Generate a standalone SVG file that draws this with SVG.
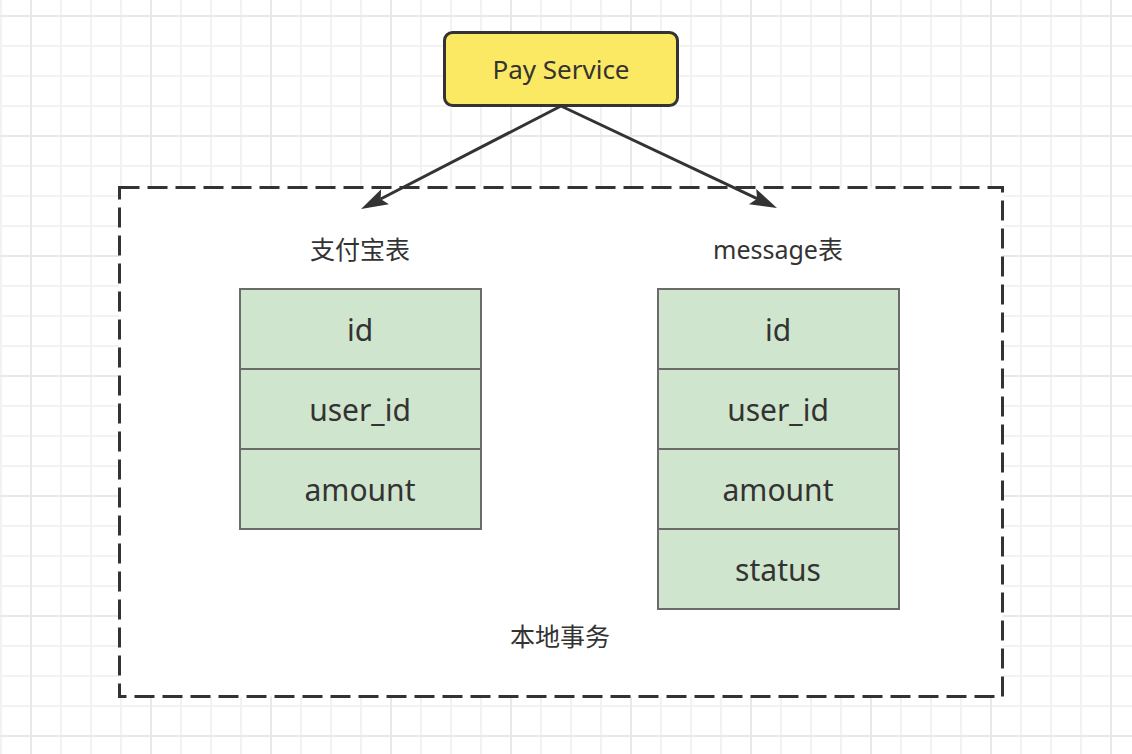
<svg xmlns="http://www.w3.org/2000/svg" width="1132" height="754" viewBox="0 0 1132 754">
  <defs>
    <pattern id="minor" patternUnits="userSpaceOnUse" x="30" y="15" width="30" height="30">
      <rect x="0" y="0" width="2" height="30" fill="#f2f2f2"/>
      <rect x="0" y="0" width="30" height="2" fill="#f2f2f2"/>
    </pattern>
    <pattern id="major" patternUnits="userSpaceOnUse" x="30" y="15" width="120" height="120">
      <rect x="0" y="0" width="2" height="120" fill="#e8e8e8"/>
      <rect x="0" y="0" width="120" height="2" fill="#e8e8e8"/>
    </pattern>
    <marker id="arrow" markerUnits="userSpaceOnUse" viewBox="-1 -12 30 24" markerWidth="30" markerHeight="24" refX="5" refY="0" orient="auto">
      <path d="M0,-8.5 L27,0 L0,8.5 L5,0 Z" fill="#333333"/>
    </marker>
  </defs>
  <style>
    .cell { fill: #d0e5cd; stroke: #6b6b6b; stroke-width: 2; }
    .field { font-family: "Noto Sans", "Liberation Sans", sans-serif; font-size: 30px; fill: #333333; text-anchor: middle; }
    .label { font-family: "Noto Sans", "Noto Sans CJK SC", sans-serif; font-size: 25px; fill: #333333; text-anchor: middle; }
    .conn { stroke: #333333; stroke-width: 3; fill: none; marker-end: url(#arrow); }
  </style>

  <rect width="1132" height="754" fill="#ffffff"/>
  <rect width="1132" height="754" fill="url(#minor)"/>
  <rect width="1132" height="754" fill="url(#major)"/>

  <g id="transaction-box">
    <rect x="119.5" y="187.5" width="883" height="509" fill="#ffffff" stroke="#333333" stroke-width="3" stroke-dasharray="20 8"/>
    <text class="label" x="560" y="646">本地事务</text>
  </g>

  <g id="pay-service">
    <rect x="444.5" y="32.5" width="233" height="73" rx="8" ry="8" fill="#fce963" stroke="#333333" stroke-width="3"/>
    <text x="561" y="79" font-family="Noto Sans, Liberation Sans, sans-serif" font-size="26" fill="#333333" text-anchor="middle">Pay Service</text>
  </g>

  <g id="connectors">
    <line class="conn" x1="561" y1="106" x2="380.6" y2="199.0"/>
    <line class="conn" x1="561" y1="106" x2="757.1" y2="198.7"/>
  </g>

  <g id="alipay-table">
    <text class="label" x="360" y="259">支付宝表</text>
    <rect class="cell" x="240" y="289" width="241" height="80"/>
    <rect class="cell" x="240" y="369" width="241" height="80"/>
    <rect class="cell" x="240" y="449" width="241" height="80"/>
    <text class="field" x="360" y="341">id</text>
    <text class="field" x="360" y="421">user_id</text>
    <text class="field" x="360" y="501">amount</text>
  </g>

  <g id="message-table">
    <text class="label" x="778" y="259">message表</text>
    <rect class="cell" x="658" y="289" width="241" height="80"/>
    <rect class="cell" x="658" y="369" width="241" height="80"/>
    <rect class="cell" x="658" y="449" width="241" height="80"/>
    <rect class="cell" x="658" y="529" width="241" height="80"/>
    <text class="field" x="778" y="341">id</text>
    <text class="field" x="778" y="421">user_id</text>
    <text class="field" x="778" y="501">amount</text>
    <text class="field" x="778" y="581">status</text>
  </g>
</svg>
